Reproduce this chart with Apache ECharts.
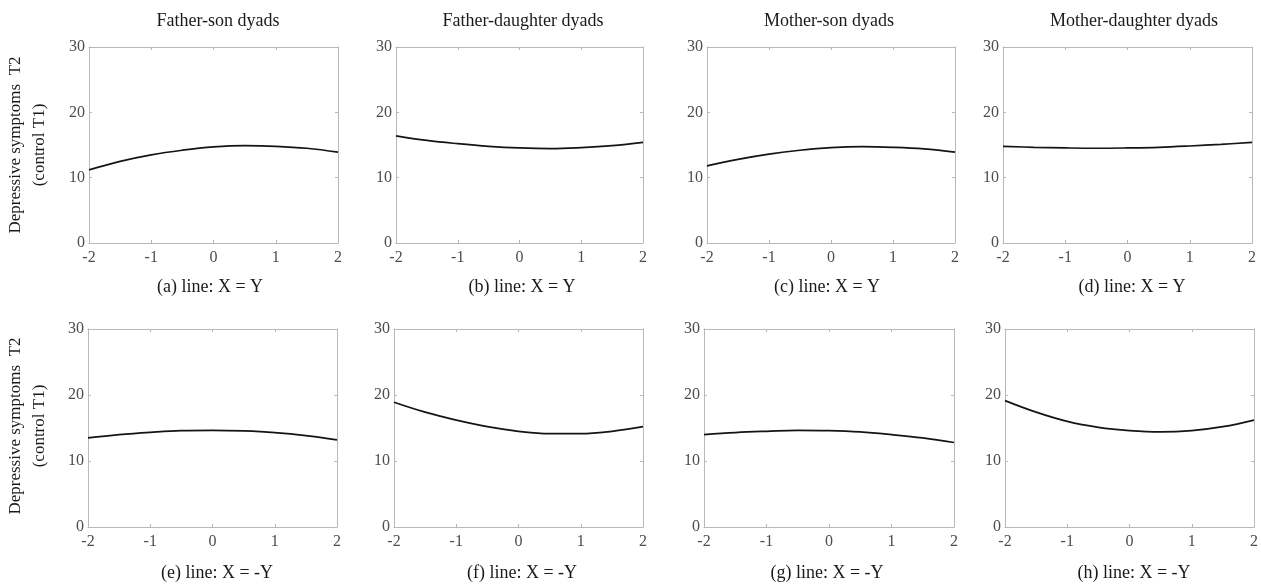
<!DOCTYPE html>
<html>
<head>
<meta charset="utf-8">
<script src="https://cdn.jsdelivr.net/npm/echarts@6/dist/echarts.min.js"></script>
<style>
  html, body { margin: 0; padding: 0; background: #fff; }
  #main { width: 1261px; height: 584px; }
</style>
</head>
<body>
<div id="main"></div>
<script>
// x positions (standardised predictor)
const xValues = [-2, -1.5, -1, -0.5, 0, 0.5, 1, 1.5, 2];

// 上排: line X = Y
const fatherSonXY      = [11.2, 12.5, 13.5, 14.2, 14.7, 14.9, 14.8, 14.5, 13.9];
const fatherDaughterXY = [16.4, 15.7, 15.2, 14.8, 14.55, 14.45, 14.6, 14.9, 15.4];
const motherSonXY      = [11.8, 12.8, 13.6, 14.2, 14.6, 14.75, 14.65, 14.4, 13.9];
const motherDaughterXY = [14.8, 14.65, 14.55, 14.5, 14.55, 14.65, 14.85, 15.1, 15.4];
// 下排: line X = -Y
const fatherSonXnY      = [13.5, 14.0, 14.35, 14.6, 14.65, 14.55, 14.3, 13.85, 13.2];
const fatherDaughterXnY = [18.9, 17.4, 16.2, 15.2, 14.5, 14.15, 14.15, 14.5, 15.2];
const motherSonXnY      = [14.0, 14.3, 14.5, 14.65, 14.6, 14.4, 14.0, 13.5, 12.8];
const motherDaughterXnY = [19.15, 17.4, 16.0, 15.1, 14.6, 14.4, 14.6, 15.2, 16.2];

const columnTitles = ['Father-son dyads', 'Father-daughter dyads', 'Mother-son dyads', 'Mother-daughter dyads'];
const captions = ['(a) line: X = Y', '(b) line: X = Y', '(c) line: X = Y', '(d) line: X = Y',
                  '(e) line: X = -Y', '(f) line: X = -Y', '(g) line: X = -Y', '(h) line: X = -Y'];
const yAxisLines = ['Depressive symptoms  T2', '(control T1)'];

const panelData = [fatherSonXY, fatherDaughterXY, motherSonXY, motherDaughterXY,
                   fatherSonXnY, fatherDaughterXnY, motherSonXnY, motherDaughterXnY];

// 布局 (px)
const panels = [
    { left: 89,  top: 47,  width: 249, height: 196 },
    { left: 396, top: 47,  width: 247, height: 196 },
    { left: 707, top: 47,  width: 248, height: 196 },
    { left: 1003, top: 47, width: 249, height: 196 },
    { left: 88,  top: 329, width: 249, height: 198 },
    { left: 394, top: 329, width: 249, height: 198 },
    { left: 704, top: 329, width: 250, height: 198 },
    { left: 1005, top: 329, width: 252, height: 198 }
];
const titleCenters = [218, 523, 829, 1134];
const captionCenters = [210, 522, 827, 1132, 217, 522, 827, 1134];

const font = 'Liberation Serif';
const lineGray = '#b8b8b8';
const labelGray = '#4d4d4d';

var myChart = echarts.init(document.getElementById('main'));

let grid = [], xAxis = [], yAxis = [], series = [], title = [], graphic = [];

panels.forEach(function (p, i) {
    grid.push({ left: p.left, top: p.top, width: p.width, height: p.height, containLabel: false });
    // 下 x 轴
    xAxis.push({
        type: 'value', gridIndex: i, min: -2, max: 2, interval: 1, position: 'bottom',
        axisLine: { show: true, onZero: false, lineStyle: { color: lineGray, width: 1 } },
        axisTick: { show: true, inside: true, length: 3, lineStyle: { color: lineGray } },
        axisLabel: { color: labelGray, fontFamily: font, fontSize: 16, margin: 7 },
        splitLine: { show: false }
    });
    // 上 x 轴（只画刻度）
    xAxis.push({
        type: 'value', gridIndex: i, min: -2, max: 2, interval: 1, position: 'top',
        axisLine: { show: true, onZero: false, lineStyle: { color: lineGray, width: 1 } },
        axisTick: { show: true, inside: true, length: 3, lineStyle: { color: lineGray } },
        axisLabel: { show: false },
        splitLine: { show: false }
    });
    yAxis.push({
        type: 'value', gridIndex: i, min: 0, max: 30, interval: 10, position: 'left',
        axisLine: { show: true, onZero: false, lineStyle: { color: lineGray, width: 1 } },
        axisTick: { show: true, inside: true, length: 3, lineStyle: { color: lineGray } },
        axisLabel: { color: labelGray, fontFamily: font, fontSize: 16, margin: 4 },
        splitLine: { show: false }
    });
    yAxis.push({
        type: 'value', gridIndex: i, min: 0, max: 30, interval: 10, position: 'right',
        axisLine: { show: true, onZero: false, lineStyle: { color: lineGray, width: 1 } },
        axisTick: { show: true, inside: true, length: 3, lineStyle: { color: lineGray } },
        axisLabel: { show: false },
        splitLine: { show: false }
    });
    series.push({
        type: 'line',
        xAxisIndex: i * 2,
        yAxisIndex: i * 2,
        data: xValues.map(function (x, k) { return [x, panelData[i][k]]; }),
        smooth: 0.4,
        showSymbol: false,
        lineStyle: { color: '#141414', width: 1.7 }
    });
    title.push({
        text: captions[i],
        left: captionCenters[i], top: i < 4 ? 278 : 564,
        padding: 0,
        textAlign: 'center',
        textStyle: { fontFamily: font, fontSize: 18, fontWeight: 'normal', color: '#1a1a1a' }
    });
});

columnTitles.forEach(function (t, i) {
    title.push({
        text: t,
        left: titleCenters[i], top: 12,
        padding: 0,
        textAlign: 'center',
        textStyle: { fontFamily: font, fontSize: 18, fontWeight: 'normal', color: '#1a1a1a' }
    });
});

// 纵轴标题（两排）
[145, 426].forEach(function (cy) {
    graphic.push({
        type: 'text',
        x: 28, y: cy,
        rotation: Math.PI / 2,
        style: {
            text: yAxisLines.join('\n'),
            fontFamily: font, fontSize: 17, lineHeight: 24,
            fill: '#1a1a1a',
            align: 'center', verticalAlign: 'middle'
        }
    });
});

option = {
    backgroundColor: '#ffffff',
    animation: false,
    title: title,
    grid: grid,
    xAxis: xAxis,
    yAxis: yAxis,
    series: series,
    graphic: graphic
};
myChart.setOption(option);
</script>
</body>
</html>
